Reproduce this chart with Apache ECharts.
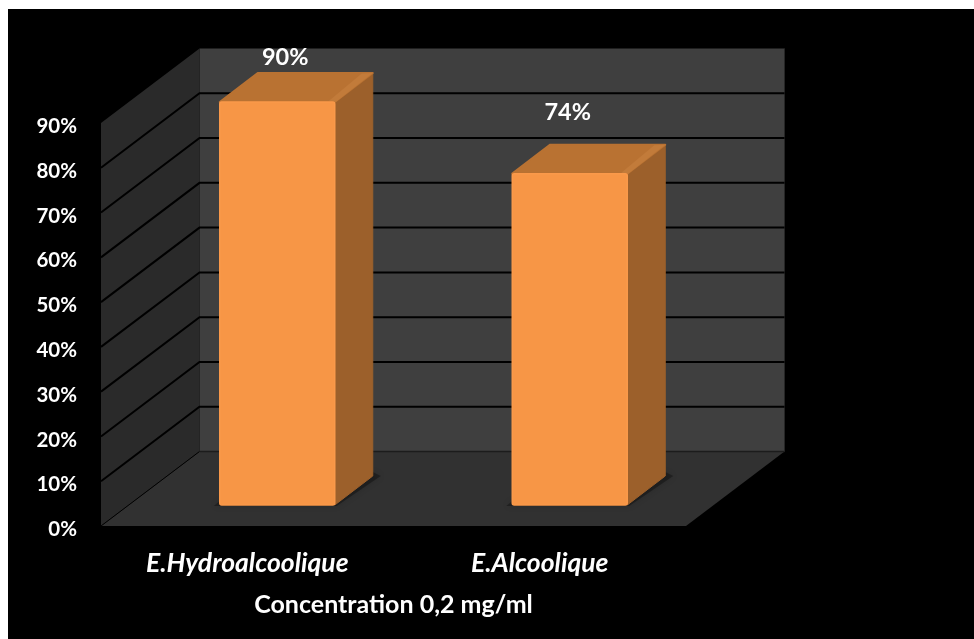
<!DOCTYPE html>
<html>
<head>
<meta charset="utf-8">
<script src="https://cdn.jsdelivr.net/npm/echarts@6/dist/echarts.min.js"></script>
<style>
  html, body { margin: 0; padding: 0; background: #fff; width: 974px; height: 639px; overflow: hidden; }
  #panel { position: absolute; left: 8px; top: 9px; right: 0; bottom: 0; background: #000; }
  #chart { position: absolute; left: 0; top: 0; width: 974px; height: 639px; }
</style>
</head>
<body>
<div id="panel"></div>
<div id="chart"></div>
<script>
// Extract activity at 0.2 mg/ml
const categories = ['E.Hydroalcoolique', 'E.Alcoolique'];
const activity = [90, 74];
const gridTicks = [10, 20, 30, 40, 50, 60, 70, 80];

// Pseudo-3D projection: how far the back of the box sits from the front plane, in px
const BOX_DX = 98.5, BOX_DY = -74.5;
// Where the column sits inside that depth
const BAR_FRONT = { dx: 30, dy: -21 };
const BAR_DEPTH = { dx: 38, dy: -29 };
const BAR_HALF_WIDTH = 57.5;
// Data labels float above each column by a differing amount
const LABEL_LIFT = [45, 61];
const LABEL_SHIFT = [8, -2];

const FONT = 'Lato, "Open Sans", sans-serif';

function polygon(points, fill, extra) {
  return Object.assign({
    type: 'polygon',
    shape: { points },
    style: { fill }
  }, extra || {});
}

// Side wall, back wall and floor of the box
function renderBox(params, api) {
  const sys = params.coordSys;
  const left = sys.x, right = sys.x + sys.width;
  const y0 = api.coord([0, 0])[1];
  const yTop = api.coord([0, 90])[1];
  return {
    type: 'group',
    children: [
      polygon([[left + BOX_DX, yTop + BOX_DY], [right + BOX_DX, yTop + BOX_DY], [right + BOX_DX, y0 + BOX_DY], [left + BOX_DX, y0 + BOX_DY]], '#3f3f3f'),
      polygon([[left, yTop], [left + BOX_DX, yTop + BOX_DY], [left + BOX_DX, y0 + BOX_DY], [left, y0]], '#2a2a2a'),
      polygon([[left, y0], [left + BOX_DX, y0 + BOX_DY], [right + BOX_DX, y0 + BOX_DY], [right, y0]], '#313131'),
      { type: 'line', shape: { x1: left, y1: y0, x2: left + BOX_DX, y2: y0 + BOX_DY }, style: { stroke: '#000', lineWidth: 1 } },
      { type: 'line', shape: { x1: left + BOX_DX, y1: y0 + BOX_DY, x2: right + BOX_DX, y2: y0 + BOX_DY }, style: { stroke: '#1c1c1c', lineWidth: 1.5 } },
      { type: 'line', shape: { x1: right + BOX_DX, y1: yTop + BOX_DY, x2: right + BOX_DX, y2: y0 + BOX_DY }, style: { stroke: '#262626', lineWidth: 1 } }
    ]
  };
}

// One gridline: diagonal across the side wall, then level across the back wall
function renderGridline(params, api) {
  const sys = params.coordSys;
  const left = sys.x, right = sys.x + sys.width;
  const y = api.coord([0, api.value(0)])[1];
  return {
    type: 'polyline',
    shape: { points: [[left, y], [left + BOX_DX, y + BOX_DY], [right + BOX_DX, y + BOX_DY]] },
    style: { stroke: '#000', lineWidth: 2, fill: null }
  };
}

// A column with front, side and top faces plus its floor shadow and value label
function renderColumn(params, api) {
  const idx = api.value(0), val = api.value(1);
  const topPt = api.coord([idx, val]);
  const basePt = api.coord([idx, 0]);
  const xL = topPt[0] + BAR_FRONT.dx - BAR_HALF_WIDTH;
  const xR = topPt[0] + BAR_FRONT.dx + BAR_HALF_WIDTH;
  const yT = topPt[1] + BAR_FRONT.dy;
  const yB = basePt[1] + BAR_FRONT.dy;
  const dx = BAR_DEPTH.dx, dy = BAR_DEPTH.dy;
  return {
    type: 'group',
    children: [
      polygon([[xL - 6, yB + 1], [xR + 2, yB + 1], [xR + dx + 8, yB + dy], [xR + dx, yB + dy - 4], [xL, yB - 4]], 'rgba(0,0,0,0.3)', {
        style: { fill: 'rgba(0,0,0,0.3)', shadowBlur: 6, shadowColor: 'rgba(0,0,0,0.45)' }
      }),
      polygon([[xR, yT], [xR + dx, yT + dy], [xR + dx, yB + dy], [xR, yB]], '#9c602b', {
        style: { fill: '#9c602b', stroke: '#9c602b', lineWidth: 1, lineJoin: 'round' }
      }),
      polygon([[xL, yT], [xL + dx, yT + dy], [xR + dx, yT + dy], [xR, yT]], '#b97232', {
        style: { fill: '#b97232', stroke: '#b97232', lineWidth: 2, lineJoin: 'round' }
      }),
      polygon([[xR - 6, yT - 1], [xR + dx - 11, yT + dy + 0.5], [xR + dx, yT + dy], [xR + 1, yT]], '#c27b3a'),
      {
        type: 'rect',
        shape: { x: xL, y: yT, width: xR - xL, height: yB - yT, r: 2 },
        style: { fill: '#f79646', stroke: '#fa994a', lineWidth: 1.5 }
      },
      {
        type: 'text',
        style: {
          x: topPt[0] + BAR_FRONT.dx + LABEL_SHIFT[idx],
          y: yT - LABEL_LIFT[idx],
          text: val + '%',
          fill: '#fff',
          font: 'bold 23.5px ' + FONT,
          align: 'center',
          verticalAlign: 'middle'
        }
      }
    ]
  };
}

const chart = echarts.init(document.getElementById('chart'), null, { renderer: 'canvas' });
chart.setOption({
  backgroundColor: 'transparent',
  animation: false,
  grid: { left: 101, right: 288, top: 123, bottom: 113 },
  xAxis: {
    type: 'category',
    data: categories,
    axisLine: { show: false },
    axisTick: { show: false },
    axisLabel: {
      color: '#fff', fontFamily: FONT, fontSize: 26.5, fontWeight: 'bold', fontStyle: 'italic', margin: 24
    },
    name: 'Concentration 0,2 mg/ml',
    nameLocation: 'middle',
    nameGap: 66,
    nameTextStyle: { color: '#fff', fontFamily: FONT, fontSize: 25, fontWeight: 'bold' }
  },
  yAxis: {
    type: 'value',
    min: 0,
    max: 90,
    interval: 10,
    axisLine: { show: false },
    axisTick: { show: false },
    splitLine: { show: false },
    axisLabel: {
      color: '#fff', fontFamily: FONT, fontSize: 20.5, fontWeight: 'bold', margin: 24,
      verticalAlign: 'top',
      lineHeight: 7,
      formatter: '{value}%'
    }
  },
  series: [
    { type: 'custom', coordinateSystem: 'cartesian2d', data: [[0, 0]], renderItem: renderBox, z: 1, silent: true, clip: false },
    { type: 'custom', coordinateSystem: 'cartesian2d', data: gridTicks.map(v => [v]), encode: { y: 0 }, renderItem: renderGridline, z: 2, silent: true, clip: false },
    { type: 'custom', coordinateSystem: 'cartesian2d', data: activity.map((v, i) => [i, v]), encode: { x: 0, y: 1 }, renderItem: renderColumn, z: 3, clip: false }
  ]
});
</script>
</body>
</html>
